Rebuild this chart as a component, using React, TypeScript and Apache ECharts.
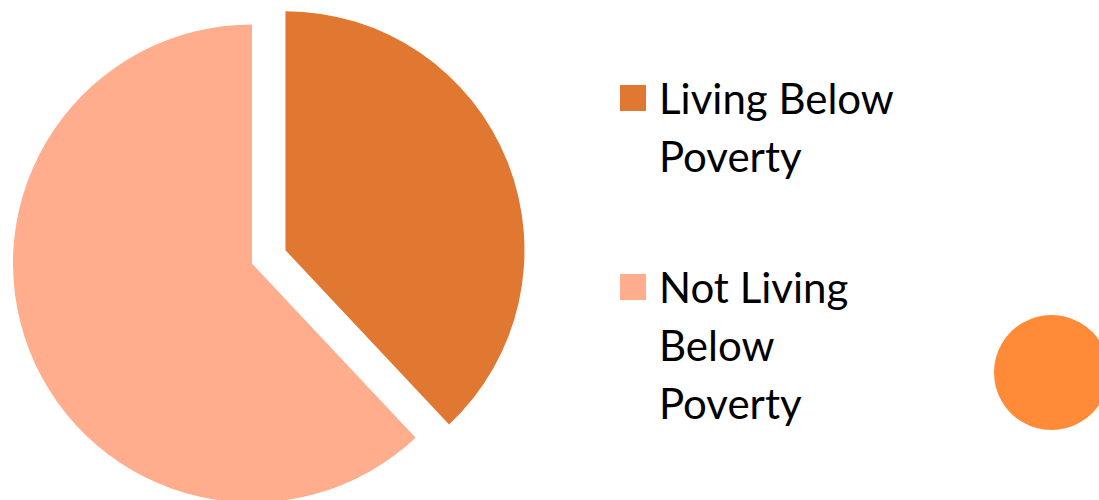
import React, { useEffect, useRef } from "react";
import * as echarts from "echarts";

const categories = ["Living Below Poverty", "Not Living Below Poverty"];
const values = [38, 62];
const legendLabels = ["Living Below\nPoverty", "Not Living\nBelow\nPoverty"];
const colors = ["#E07832", "#FFAD8C"];

export default function App() {
  const ref = useRef<HTMLDivElement>(null);
  useEffect(() => {
    if (!ref.current) return;
    const chart = echarts.init(ref.current, undefined, { renderer: "svg" });
    const font = "Lato";
    const lh = 58;
    const mkLegend = (i: number, top: number) => {
      const lines = legendLabels[i].split("\n").length;
      const label = "\n".repeat(lines - 1) + legendLabels[i];
      return {
        data: [categories[i]],
        left: 620,
        top,
        padding: 0,
        orient: "vertical",
        itemWidth: 26,
        itemHeight: 26,
        icon: "rect",
        selectedMode: false,
        formatter: () => label,
        textStyle: {
          fontFamily: font,
          fontSize: 42,
          color: "#000",
          lineHeight: lh,
          padding: [0, 0, 0, 8],
        },
      };
    };
    chart.setOption({
      animation: false,
      color: colors,
      legend: [mkLegend(0, 11), mkLegend(1, 142)],
      graphic: [
        {
          type: "circle",
          shape: { cx: 1051.5, cy: 372.5, r: 57.5 },
          style: { fill: "#FF8A38" },
          silent: true,
        },
      ],
      series: [
        {
          type: "pie",
          center: [252, 263.5],
          radius: 239,
          startAngle: 90,
          clockwise: true,
          selectedMode: "single",
          selectedOffset: 36,
          label: { show: false },
          labelLine: { show: false },
          emphasis: { disabled: true },
          itemStyle: { borderWidth: 0 },
          data: categories.map((name, i) => ({
            name,
            value: values[i],
            selected: i === 0,
          })),
        },
      ],
    });
    return () => chart.dispose();
  }, []);
  return (
    <div
      ref={ref}
      style={{ position: "absolute", left: 0, top: 0, width: 1099, height: 500 }}
    />
  );
}
